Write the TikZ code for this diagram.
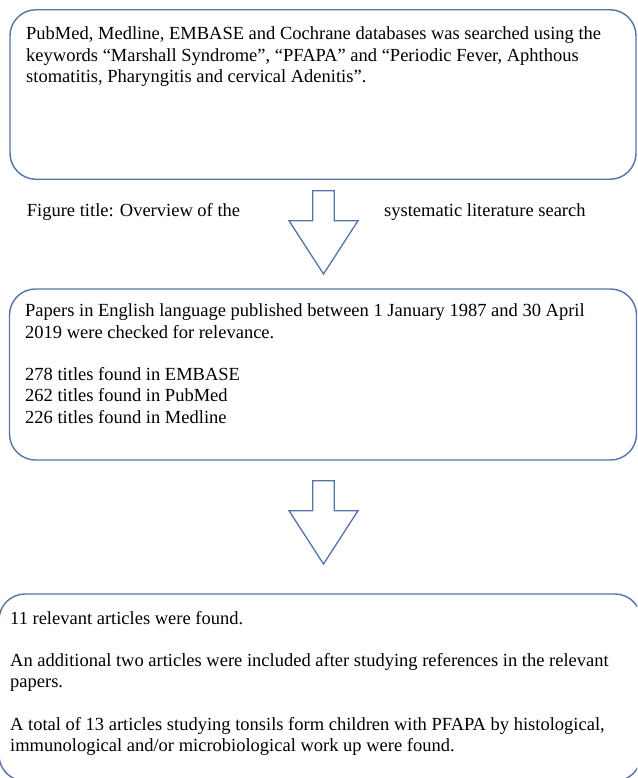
\documentclass[tikz,border=0pt]{standalone}
\usepackage{fontspec}
\setmainfont{Liberation Serif}
\definecolor{outl}{RGB}{84,115,168}
\tikzset{
  x=1pt, y=-1pt,
  boxshape/.style={draw=outl, line width=1.4pt, rounded corners=26pt, inner sep=0pt},
  txt/.style={anchor=base west, inner sep=0pt, text=black},
  downarrow/.pic={
    \draw[draw=outl, line width=1.3pt, line join=miter]
      (-10.8,0) -- (10.8,0) -- (10.8,30) -- (34.5,30) -- (0,83.3)
      -- (-34.5,30) -- (-10.8,30) -- cycle;
  }
}
\newcommand{\bodyfont}{\fontsize{18.5}{21.3}\selectfont}
\newcommand{\tb}[1]{\parbox[t]{700pt}{\bodyfont\raggedright\setlength{\parindent}{0pt}\setlength{\parskip}{21.3pt}#1}}
\begin{document}
\begin{tikzpicture}
\useasboundingbox (0,0) rectangle (637,778);
\clip (0,0) rectangle (637,778);
% boxes
\node[boxshape, minimum width=626pt, minimum height=169.5pt] (b1) at (323,94.5) {};
\node[boxshape, minimum width=627pt, minimum height=171pt] (b2) at (323,374.5) {};
\node[boxshape, minimum width=642pt, minimum height=187pt] (b3) at (320,687.5) {};
% arrows
\coordinate (a1) at (323.5,190.7);
\coordinate (a2) at (323.5,480.7);
\pic at (a1) {downarrow};
\pic at (a2) {downarrow};
% texts
\node[txt] (t1) at (26,40) {\tb{PubMed, Medline, EMBASE and Cochrane databases was searched using the\\
keywords “Marshall Syndrome”, “PFAPA” and “Periodic Fever, Aphthous\\
stomatitis, Pharyngitis and cervical Adenitis”.}};
\node[txt] (ft1) at (26.7,216.7) {\bodyfont Figure title: Overview of the};
\node[txt] (ft2) at (384,216.7) {\bodyfont systematic literature search};
\node[txt] (t2) at (25,316.7) {\tb{Papers in English language published between 1 January 1987 and 30 April\\
2019 were checked for relevance.\par
278 titles found in EMBASE\\
262 titles found in PubMed\\
226 titles found in Medline}};
\node[txt] (t3) at (10,624) {\tb{11 relevant articles were found.\par
An additional two articles were included after studying references in the relevant\\
papers.\par
A total of 13 articles studying tonsils form children with PFAPA by histological,\\
immunological and/or microbiological work up were found.}};
\end{tikzpicture}
\end{document}
